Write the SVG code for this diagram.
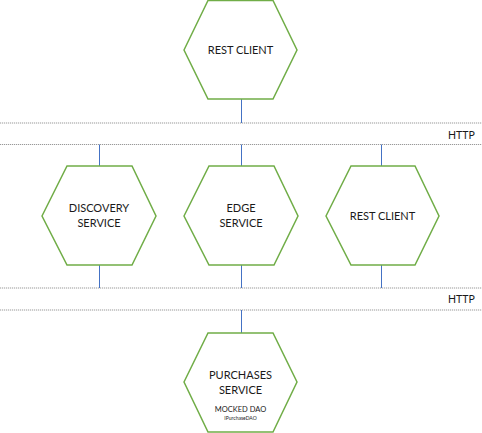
<svg xmlns="http://www.w3.org/2000/svg" width="482" height="433" viewBox="0 0 482 433">
<style>
.hex{fill:#fff;stroke:#70AD47;stroke-width:1.5}
.bus{stroke:#999;stroke-width:1.2;stroke-dasharray:1.2 0.8;fill:none}
.link{stroke:#4472C4;stroke-width:1;fill:none}
text{font-family:Lato,"Liberation Sans",sans-serif;fill:#1a1a1a;text-anchor:middle}
.t{font-size:11px}
.s{font-size:7.5px}
.xs{font-size:5px}
.h{font-size:10.5px;text-anchor:start}
</style>
<rect width="482" height="433" fill="#fff"/>
<g id="connectors">
<line class="bus" x1="0" y1="123" x2="482" y2="123"/>
<line class="bus" x1="0" y1="144.5" x2="482" y2="144.5"/>
<line class="bus" x1="0" y1="288" x2="482" y2="288"/>
<line class="bus" x1="0" y1="310" x2="482" y2="310"/>
<line class="link" x1="241.5" y1="99" x2="241.5" y2="123"/>
<line class="link" x1="99.5" y1="144.5" x2="99.5" y2="166"/>
<line class="link" x1="241.5" y1="144.5" x2="241.5" y2="166"/>
<line class="link" x1="381.5" y1="144.5" x2="381.5" y2="166"/>
<line class="link" x1="99.5" y1="265" x2="99.5" y2="288"/>
<line class="link" x1="241.5" y1="265" x2="241.5" y2="288"/>
<line class="link" x1="381.5" y1="265" x2="381.5" y2="288"/>
<line class="link" x1="241.5" y1="310" x2="241.5" y2="333"/>
</g>
<g id="http1"><text class="h" x="448" y="139">HTTP</text></g>
<g id="http2"><text class="h" x="448" y="303">HTTP</text></g>
<g id="rest-client-top">
<polygon class="hex" points="184,50 208,0.5 273,0.5 297,50 273,99 208,99"/>
<text class="t" x="240.5" y="54">REST CLIENT</text>
</g>
<g id="discovery-service">
<polygon class="hex" points="42,216 67,166 132,166 156,216 132,265 67,265"/>
<text class="t" x="99" y="212">DISCOVERY</text>
<text class="t" x="99" y="226.5">SERVICE</text>
</g>
<g id="edge-service">
<polygon class="hex" points="184,216 209,166 274,166 298,216 274,265 209,265"/>
<text class="t" x="241" y="212">EDGE</text>
<text class="t" x="241" y="226.5">SERVICE</text>
</g>
<g id="rest-client-mid">
<polygon class="hex" points="326,216 351,166 415,166 439,216 415,265 351,265"/>
<text class="t" x="382.5" y="220">REST CLIENT</text>
</g>
<g id="purchases-service">
<polygon class="hex" points="184,382 208,333 273,333 297,382 273,432 208,432"/>
<text class="t" x="240.5" y="379">PURCHASES</text>
<text class="t" x="240.5" y="394">SERVICE</text>
<text class="s" x="240.5" y="412">MOCKED DAO</text>
<text class="xs" x="240.5" y="419.5">IPurchaseDAO</text>
</g>
</svg>
